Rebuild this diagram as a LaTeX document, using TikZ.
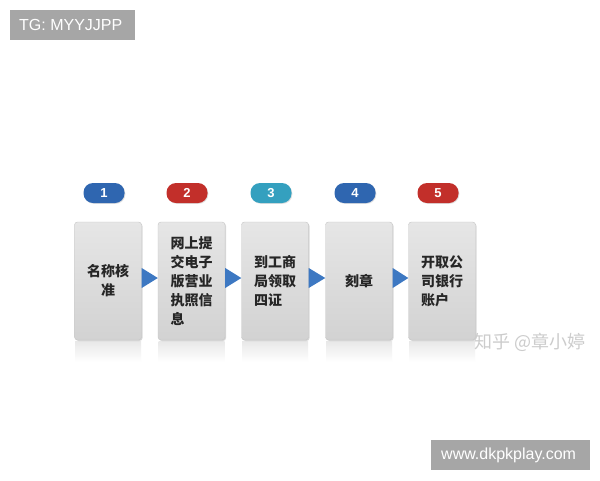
\documentclass[tikz,border=0pt]{standalone}
\usepackage{fontspec}
\setmainfont{Liberation Sans}
\newfontfamily\cjk{Noto Sans CJK SC}
\usetikzlibrary{shadows}
\definecolor{tagbg}{HTML}{A6A6A6}
\definecolor{bblue}{HTML}{2F66B0}
\definecolor{bred}{HTML}{C22F2A}
\definecolor{bteal}{HTML}{34A0BF}
\definecolor{arrowc}{HTML}{3D78C2}
\definecolor{boxtop}{HTML}{E6E6E6}
\definecolor{boxbot}{HTML}{D2D2D2}
\tikzset{
  tagbox/.style={fill=tagbg, text=white, font=\fontsize{16}{18}\selectfont, inner sep=0pt},
  badge/.style={rounded corners=9.5pt, minimum width=41pt, minimum height=20pt, inner sep=0pt,
    text=white, font=\fontsize{13}{15}\selectfont\bfseries, drop shadow={opacity=0.25, shadow xshift=0.8pt, shadow yshift=-0.8pt}},
  stepbox/.style={rounded corners=3pt, minimum width=67pt, minimum height=118pt, inner sep=0pt,
    top color=boxtop, bottom color=boxbot, draw=gray!45, line width=0.4pt,
    font=\cjk\bfseries\fontsize{14}{19}\selectfont, text=black!85,
    drop shadow={opacity=0.3, shadow xshift=1pt, shadow yshift=-1pt}},
  refl/.style={top color=gray!18, bottom color=white, draw=none},
  tri/.style={fill=arrowc}
}
\begin{document}
\begin{tikzpicture}[x=1pt,y=-1pt]
\useasboundingbox (0,0) rectangle (600,480);
\fill[white] (0,0) rectangle (600,480);
% corner tags
\fill[tagbg] (10,10) rectangle (135,40);
\node[tagbox, anchor=west] (tg) at (19,25) {TG: MYYJJPP};
\fill[tagbg] (431,440) rectangle (590,470);
\node[tagbox, anchor=west] (www) at (441,455.5) {www.dkpkplay.com};
% reflections
\foreach \x in {108,191.5,275,359,442}{
  \shade[refl] (\x-33,341) rectangle (\x+33,362);
}
% boxes
\node[stepbox, align=center] (b1) at (108,281) {\baselineskip=14pt 名称核\\准};
\node[stepbox, align=left] (b2) at (191.5,281) {网上提\\交电子\\版营业\\执照信\\息};
\node[stepbox, align=left] (b3) at (275,281) {到工商\\局领取\\四证};
\node[stepbox, align=left] (b4) at (359,281) {刻章};
\node[stepbox, align=left] (b5) at (442,281) {开取公\\司银行\\账户};
% badges
\node[badge, fill=bblue] (n1) at (104,193) {1};
\node[badge, fill=bred] (n2) at (187,193) {2};
\node[badge, fill=bteal] (n3) at (271,193) {3};
\node[badge, fill=bblue] (n4) at (355,193) {4};
\node[badge, fill=bred] (n5) at (438,193) {5};
% arrows
\fill[tri] ([yshift=13pt]b1.east) -- ([yshift=3pt]b2.west) -- ([yshift=-7pt]b1.east) -- cycle;
\fill[tri] ([yshift=13pt]b2.east) -- ([yshift=3pt]b3.west) -- ([yshift=-7pt]b2.east) -- cycle;
\fill[tri] ([yshift=13pt]b3.east) -- ([yshift=3pt]b4.west) -- ([yshift=-7pt]b3.east) -- cycle;
\fill[tri] ([yshift=13pt]b4.east) -- ([yshift=3pt]b5.west) -- ([yshift=-7pt]b4.east) -- cycle;
% watermark
\node[anchor=west, text=gray!40, font=\cjk\fontsize{18}{20}\selectfont, inner sep=0pt] (wm) at (474,342) {知乎 @章小婷};
\end{tikzpicture}
\end{document}
